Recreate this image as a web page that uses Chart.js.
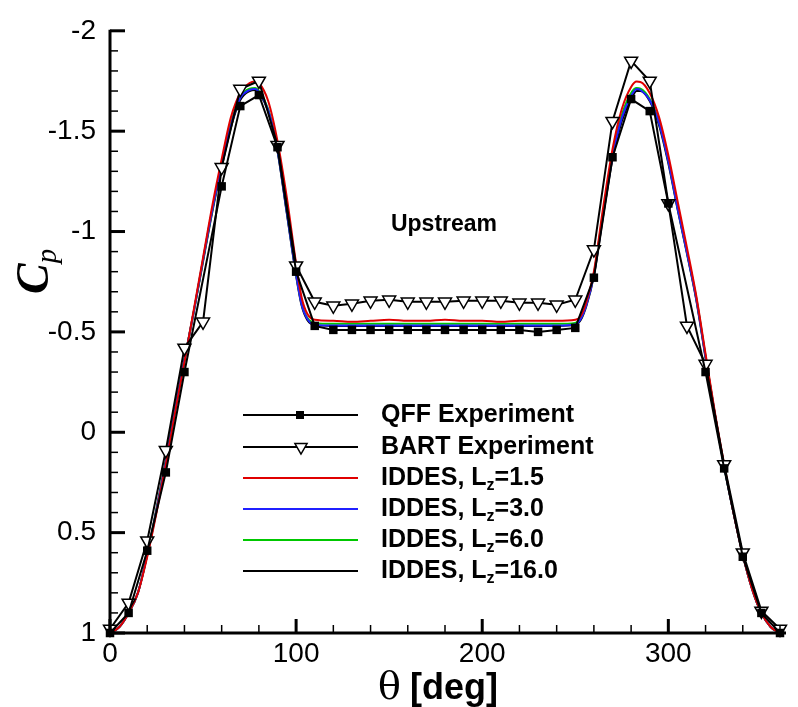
<!DOCTYPE html>
<html>
<head>
<meta charset="utf-8">
<script src="https://cdn.jsdelivr.net/npm/chart.js@4.4.1/dist/chart.umd.min.js"></script>
<style>
  html, body { margin: 0; padding: 0; background: #fff; }
  #wrap { width: 798px; height: 707px; position: relative; }
</style>
</head>
<body>
<div id="wrap"><canvas id="cpChart"></canvas></div>
<script>
// QFF experiment (filled squares)
const qffTheta = [0, 10, 20, 30, 40, 60, 70, 80, 90, 100, 110, 120, 130, 140, 150, 160, 170, 180, 190, 200,
                  210, 220, 230, 240, 250, 260, 270, 280, 290, 300, 320, 330, 340, 350, 360];
const qffCp = [1.0, 0.90, 0.59, 0.20, -0.30, -1.225, -1.625, -1.68, -1.42, -0.80, -0.53, -0.51, -0.51, -0.51, -0.51, -0.51, -0.51, -0.51, -0.51, -0.51,
               -0.51, -0.51, -0.50, -0.51, -0.52, -0.77, -1.37, -1.66, -1.60, -1.14, -0.30, 0.18, 0.62, 0.90, 1.0];

// BART experiment (open triangles)
const bartTheta = [0, 10, 20, 30, 40, 50, 60, 70, 80, 90, 100, 110, 120, 130, 140, 150, 160, 170, 180,
                   190, 200, 210, 220, 230, 240, 250, 260, 270, 280, 290, 300, 310, 320, 330, 340, 350, 360];
const bartCp = [0.98, 0.85, 0.54, 0.09, -0.42, -0.55, -1.32, -1.71, -1.75, -1.43, -0.83, -0.65, -0.63, -0.64, -0.655, -0.66, -0.65, -0.65, -0.65,
                -0.655, -0.655, -0.655, -0.645, -0.645, -0.635, -0.66, -0.91, -1.55, -1.85, -1.75, -1.14, -0.53, -0.34, 0.16, 0.60, 0.89, 0.98];

// IDDES results
const simTheta = [0, 5, 10, 15, 20, 25, 30, 35, 40, 45, 50, 55, 60, 65, 70, 75, 78, 80, 85, 90, 95, 100, 103, 106,
                  110, 120, 130, 140, 150, 160, 170, 180, 190, 200, 210, 220, 230, 240, 250,
                  253, 256, 260, 265, 270, 275, 280, 283, 285, 290, 295, 300, 305, 310, 315, 320, 325, 330, 335, 340, 345, 350, 355, 360];
const cpLz1_5 = [1.0, 0.97, 0.90, 0.80, 0.62, 0.40, 0.16, -0.10, -0.35, -0.61, -0.87, -1.13, -1.36, -1.57, -1.69, -1.74, -1.747, -1.74, -1.65, -1.45, -1.17, -0.84, -0.67, -0.59,
                 -0.56, -0.555, -0.55, -0.555, -0.56, -0.555, -0.555, -0.56, -0.555, -0.555, -0.55, -0.555, -0.555, -0.555, -0.56,
                 -0.58, -0.65, -0.80, -1.12, -1.41, -1.61, -1.72, -1.747, -1.745, -1.69, -1.57, -1.38, -1.15, -0.92, -0.68, -0.39, -0.10, 0.16, 0.40, 0.61, 0.78, 0.90, 0.97, 1.0];
const cpLz3_0 = [1.0, 0.97, 0.90, 0.80, 0.61, 0.39, 0.15, -0.11, -0.36, -0.60, -0.86, -1.11, -1.33, -1.53, -1.665, -1.705, -1.71, -1.695, -1.605, -1.405, -1.095, -0.785, -0.635, -0.565,
                 -0.535, -0.532, -0.532, -0.532, -0.532, -0.532, -0.532, -0.532, -0.532, -0.532, -0.532, -0.532, -0.532, -0.532, -0.537,
                 -0.565, -0.635, -0.785, -1.09, -1.37, -1.565, -1.675, -1.71, -1.705, -1.655, -1.54, -1.35, -1.115, -0.895, -0.665, -0.375, -0.09, 0.17, 0.40, 0.61, 0.78, 0.90, 0.97, 1.0];
const cpLz6_0 = [1.0, 0.97, 0.90, 0.80, 0.61, 0.39, 0.15, -0.11, -0.36, -0.60, -0.86, -1.11, -1.33, -1.54, -1.67, -1.712, -1.715, -1.70, -1.61, -1.41, -1.10, -0.79, -0.64, -0.57,
                 -0.545, -0.54, -0.54, -0.54, -0.54, -0.54, -0.54, -0.54, -0.54, -0.54, -0.54, -0.54, -0.54, -0.54, -0.545,
                 -0.57, -0.64, -0.79, -1.10, -1.38, -1.58, -1.69, -1.715, -1.712, -1.66, -1.545, -1.355, -1.12, -0.90, -0.67, -0.38, -0.09, 0.17, 0.40, 0.61, 0.78, 0.90, 0.97, 1.0];
const cpLz16 = [1.0, 0.97, 0.90, 0.80, 0.61, 0.38, 0.14, -0.12, -0.36, -0.60, -0.85, -1.10, -1.32, -1.52, -1.655, -1.70, -1.705, -1.69, -1.60, -1.40, -1.09, -0.78, -0.63, -0.56,
                -0.535, -0.53, -0.53, -0.53, -0.53, -0.53, -0.53, -0.53, -0.53, -0.53, -0.53, -0.53, -0.53, -0.53, -0.535,
                -0.56, -0.63, -0.78, -1.08, -1.36, -1.55, -1.66, -1.70, -1.70, -1.65, -1.53, -1.34, -1.11, -0.89, -0.66, -0.37, -0.09, 0.17, 0.40, 0.61, 0.78, 0.90, 0.97, 1.0];

const seriesNames = ['QFF Experiment', 'BART Experiment', 'IDDES, L_z=1.5', 'IDDES, L_z=3.0', 'IDDES, L_z=6.0', 'IDDES, L_z=16.0'];
const seriesColors = ['#000000', '#000000', '#e00000', '#2020ff', '#00c800', '#000000'];

const xTickLabels = [0, 100, 200, 300];
const yTickLabels = [-2, -1.5, -1, -0.5, 0, 0.5, 1];

function toPoints(xs, ys) {
    return xs.map((x, i) => ({ x: x, y: ys[i] }));
}

function simSet(idx, values) {
    return {
        label: seriesNames[idx],
        data: toPoints(simTheta, values),
        borderColor: seriesColors[idx],
        borderWidth: 2,
        pointRadius: 0,
        cubicInterpolationMode: 'monotone',
        fill: false,
        clip: false
    };
}

// text with "_x" subscripts
function drawRich(ctx, text, x, y, size, weight, family) {
    const parts = text.split(/_(.)/);
    let cx = x;
    parts.forEach((p, i) => {
        const sub = i % 2 === 1;
        const fs = sub ? Math.round(size * 0.62) : size;
        ctx.font = weight + ' ' + fs + 'px ' + family;
        ctx.fillText(p, cx, sub ? y + size * 0.3 : y);
        cx += ctx.measureText(p).width;
    });
}

const axesPlugin = {
    id: 'axesTicks',
    afterDraw(chart) {
        const ctx = chart.ctx, a = chart.chartArea;
        const xs = chart.scales.x, ys = chart.scales.y;
        ctx.save();
        ctx.strokeStyle = '#000';
        ctx.lineWidth = 3;
        ctx.beginPath();
        ctx.moveTo(a.left, a.top - 1);
        ctx.lineTo(a.left, a.bottom);
        ctx.lineTo(a.right + 6, a.bottom);
        ctx.stroke();
        ys.ticks.forEach(t => {
            const major = yTickLabels.some(v => Math.abs(v - t.value) < 1e-6);
            const y = ys.getPixelForValue(t.value);
            ctx.lineWidth = major ? 3 : 1.5;
            ctx.beginPath();
            ctx.moveTo(a.left, y);
            ctx.lineTo(a.left + (major ? 15 : 8), y);
            ctx.stroke();
        });
        xs.ticks.forEach(t => {
            const major = xTickLabels.includes(Math.round(t.value));
            const x = xs.getPixelForValue(t.value);
            ctx.lineWidth = major ? 3 : 1.5;
            ctx.beginPath();
            ctx.moveTo(x, a.bottom);
            ctx.lineTo(x, a.bottom - (major ? 14 : 8));
            ctx.stroke();
        });
        ctx.restore();
    }
};

const textPlugin = {
    id: 'texts',
    afterDraw(chart) {
        const ctx = chart.ctx;
        ctx.save();
        ctx.fillStyle = '#000';
        ctx.textBaseline = 'middle';

        // annotation
        ctx.textAlign = 'center';
        ctx.font = 'bold 23px "Liberation Sans", Arial, sans-serif';
        ctx.fillText('Upstream', 444, 225);

        // x title
        ctx.textAlign = 'left';
        ctx.textBaseline = 'alphabetic';
        ctx.font = '38px "DejaVu Serif", serif';
        ctx.fillText('θ', 378, 699);
        ctx.font = 'bold 36px "Liberation Sans", Arial, sans-serif';
        ctx.fillText('[deg]', 410, 699);

        // y title
        ctx.save();
        ctx.translate(48, 294);
        ctx.rotate(-Math.PI / 2);
        ctx.font = 'bold italic 46px "Liberation Serif", serif';
        ctx.fillText('C', 0, 0);
        const cw = ctx.measureText('C').width;
        ctx.font = 'italic 29px "Liberation Serif", serif';
        ctx.fillText('p', cw, 8);
        ctx.restore();

        // legend
        const rows = [415, 447, 478, 509, 540, 571];
        chart.data.datasets.forEach((ds, i) => {
            const y = rows[i];
            ctx.strokeStyle = ds.borderColor;
            ctx.lineWidth = 2;
            ctx.beginPath();
            ctx.moveTo(243, y);
            ctx.lineTo(358, y);
            ctx.stroke();
            if (ds.pointStyle === 'rect') {
                ctx.fillStyle = '#000';
                ctx.fillRect(296, y - 4, 8, 8);
            } else if (ds.pointStyle === 'triangle') {
                const r = 7, cx = 301;
                ctx.fillStyle = '#fff';
                ctx.lineWidth = 1.5;
                ctx.beginPath();
                ctx.moveTo(cx, y + r);
                ctx.lineTo(cx - r * 0.866, y - r * 0.5);
                ctx.lineTo(cx + r * 0.866, y - r * 0.5);
                ctx.closePath();
                ctx.fill();
                ctx.stroke();
            }
            ctx.fillStyle = '#000';
            ctx.textBaseline = 'middle';
            drawRich(ctx, ds.label, 381, y, 25, 'bold', '"Liberation Sans", Arial, sans-serif');
        });
        ctx.restore();
    }
};

new Chart(document.getElementById('cpChart'), {
    type: 'line',
    data: {
        datasets: [
            {
                label: seriesNames[0],
                data: toPoints(qffTheta, qffCp),
                borderColor: '#000',
                backgroundColor: '#000',
                borderWidth: 2,
                pointStyle: 'rect',
                pointRadius: 6,
                pointBorderWidth: 0,
                clip: false
            },
            {
                label: seriesNames[1],
                data: toPoints(bartTheta, bartCp),
                borderColor: '#000',
                backgroundColor: '#fff',
                borderWidth: 2,
                pointStyle: 'triangle',
                pointRotation: 180,
                pointRadius: 7.5,
                pointBorderWidth: 1.5,
                clip: false
            },
            simSet(2, cpLz1_5),
            simSet(3, cpLz3_0),
            simSet(4, cpLz6_0),
            simSet(5, cpLz16)
        ]
    },
    options: {
        responsive: true,
        maintainAspectRatio: false,
        animation: false,
        layout: { padding: { left: 0, right: 18, top: 20, bottom: 20 } },
        plugins: { legend: { display: false }, tooltip: { enabled: false } },
        scales: {
            x: {
                type: 'linear',
                min: 0,
                max: 360,
                grid: { display: false, drawTicks: false },
                border: { display: false },
                ticks: {
                    stepSize: 20,
                    autoSkip: false,
                    maxRotation: 0,
                    padding: 4,
                    color: '#000',
                    font: { family: '"Liberation Sans", Arial, sans-serif', size: 28 },
                    callback: v => xTickLabels.includes(Math.round(v)) ? String(Math.round(v)) : ''
                },
                afterFit: s => { s.height = 54; }
            },
            y: {
                type: 'linear',
                reverse: true,
                min: -2,
                max: 1,
                grid: { display: false, drawTicks: false },
                border: { display: false },
                ticks: {
                    stepSize: 0.1,
                    autoSkip: false,
                    padding: 14,
                    color: '#000',
                    font: { family: '"Liberation Sans", Arial, sans-serif', size: 28 },
                    callback: v => yTickLabels.some(t => Math.abs(t - v) < 1e-6) ? String(Math.round(v * 10) / 10) : ''
                },
                afterFit: s => { s.width = 110; }
            }
        }
    },
    plugins: [axesPlugin, textPlugin]
});
</script>
</body>
</html>
